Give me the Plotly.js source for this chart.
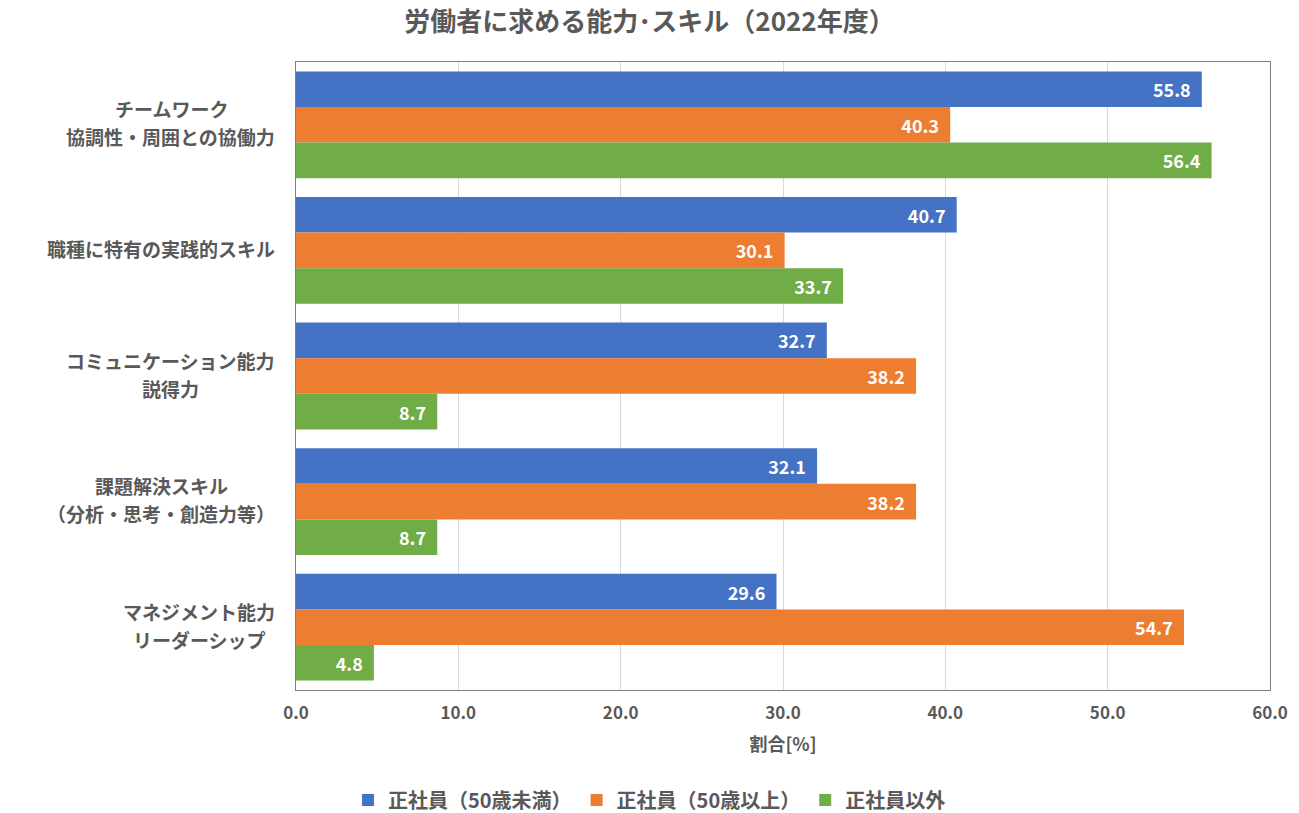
<!DOCTYPE html>
<html><head><meta charset="utf-8">
<script src="https://cdn.plot.ly/plotly-3.0.1.min.js"></script>
<style>html,body{margin:0;padding:0;background:#fff;}#chart{width:1299px;height:813px;}</style>
</head><body><div id="chart"></div>
<script>
const categories = [
  "チームワーク<br>協調性・周囲との協働力",
  "職種に特有の実践的スキル",
  "コミュニケーション能力<br>説得力",
  "課題解決スキル<br>（分析・思考・創造力等）",
  "マネジメント能力<br>リーダーシップ"
];
const seriesNames = ["正社員（50歳未満）", "正社員（50歳以上）", "正社員以外"];
const under50 = [55.8, 40.7, 32.7, 32.1, 29.6];
const over50  = [40.3, 30.1, 38.2, 38.2, 54.7];
const nonRegular = [56.4, 33.7, 8.7, 8.7, 4.8];
const colors = ["#4472C4", "#ED7D31", "#70AD47"];
const font = "'Noto Sans CJK JP', 'Noto Sans', sans-serif";
const catSize = 19, lineGap = 28;

const vals = [under50, over50, nonRegular];
const traces = vals.map((v, i) => ({
  type: "bar", orientation: "h", name: seriesNames[i],
  x: v, y: categories,
  marker: {color: colors[i]},
  texttemplate: "%{x:.1f}\u00a0\u00a0", textposition: "inside", insidetextanchor: "end",
  textangle: 0,
  insidetextfont: {color: "#ffffff", size: 18, family: font, weight: "bold"},
  hoverinfo: "x+name"
}));

// category labels: one annotation per line; lines centred within a right-aligned block
const ctx = document.createElement("canvas").getContext("2d");
ctx.font = "bold " + catSize + "px " + font;
const annotations = [];
categories.forEach(c => {
  const lines = c.split("<br>");
  const n = lines.length;
  const widths = lines.map(l => ctx.measureText(l).width);
  const maxW = Math.max(...widths);
  lines.forEach((ln, k) => {
    annotations.push({
      xref: "paper", yref: "y", x: -0.0195, y: c, xanchor: "right", yanchor: "middle",
      text: ln, showarrow: false, yshift: ((n - 1) / 2 - k) * lineGap + 2,
      xshift: -(maxW - widths[k]) / 2,
      font: {family: font, size: catSize, color: "#595959", weight: "bold"}
    });
  });
});

const layout = {
  width: 1299, height: 813,
  margin: {l: 296, r: 29, t: 62, b: 123, autoexpand: false},
  paper_bgcolor: "#fff", plot_bgcolor: "#fff",
  title: {text: "<b>労働者に求める能力･スキル（2022年度）</b>", x: 0.5, xanchor: "center", yref: "container", y: 0.973, yanchor: "middle",
          font: {family: font, size: 26, color: "#595959"}},
  barmode: "group", bargap: 0.15, bargroupgap: 0,
  xaxis: {range: [0, 60], dtick: 10, tickformat: ".1f", showgrid: true, gridcolor: "#D9D9D9", gridwidth: 1,
          zeroline: false, showline: true, linecolor: "#7F7F7F", linewidth: 1, mirror: true, automargin: false,
          ticks: "", ticklabelstandoff: 8, tickfont: {family: font, size: 17, color: "#595959", weight: "bold"},
          title: {text: "割合[%]", font: {family: font, size: 18, color: "#595959", weight: "bold"}, standoff: 14}},
  yaxis: {autorange: "reversed", showline: true, linecolor: "#7F7F7F", mirror: true, ticks: "",
          showticklabels: false, automargin: false},
  legend: {orientation: "h", xref: "container", x: 0.5, xanchor: "center", yref: "container", y: 0.016, yanchor: "middle",
           font: {family: font, size: 20, color: "#595959", weight: "bold"}, traceorder: "normal",
           itemwidth: 30},
  annotations: annotations,
  showlegend: true
};
Plotly.newPlot("chart", traces, layout, {displayModeBar: false});
</script></body></html>
